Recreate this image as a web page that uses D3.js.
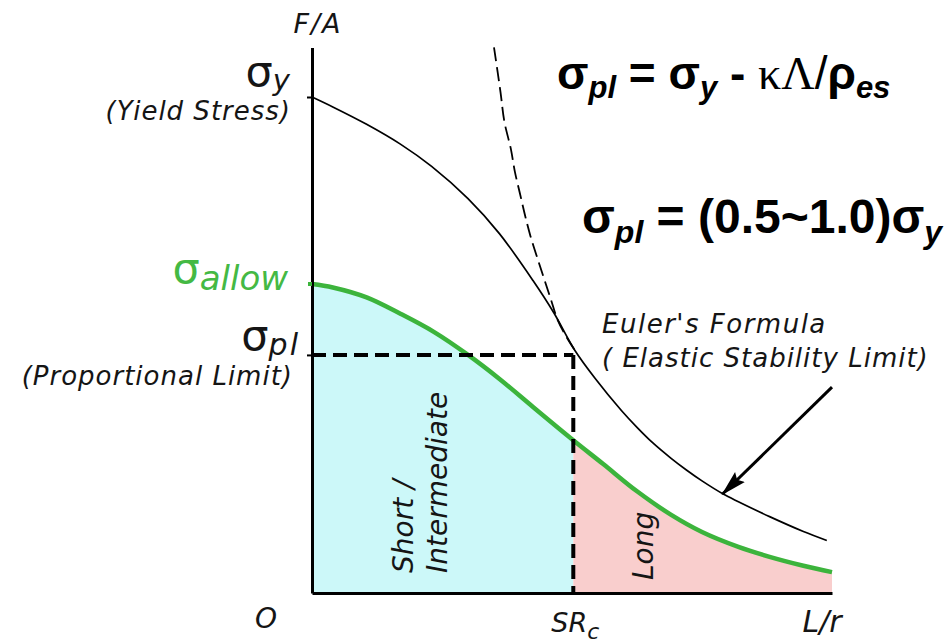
<!DOCTYPE html>
<html>
<head>
<meta charset="utf-8">
<script src="https://cdn.jsdelivr.net/npm/d3@7"></script>
<style>
  html, body { margin: 0; padding: 0; background: #fff; }
  svg { display: block; }
  text { font-family: "DejaVu Sans", Verdana, sans-serif; fill: #151515; }
  .eq { font-family: "Liberation Sans", Arial, sans-serif; font-weight: bold; fill: #000; }
</style>
</head>
<body>
<svg id="chart" width="949" height="644"></svg>
<script>
// Column buckling: stress F/A against slenderness ratio L/r (stresses scaled so that σy = 100)
const xMax = 200;
const yMax = 110;
const sigmaY = 100;       // yield stress
const sigmaAllow = 62.3;  // allowable stress at L/r = 0
const sigmaPL = 48;       // proportional limit
const SRc = 100.5;        // critical slenderness ratio

// Johnson parabola joining the Euler hyperbola (thin solid curve)
const limitX = [0, 8, 21, 34, 46, 60, 72, 85, 93, 101, 109, 119, 125, 131, 138, 144, 150, 158, 164, 176, 189, 198];
const limitY = [100, 98, 94.5, 90.5, 86, 79.5, 72.5, 63, 56.5, 49, 43.2, 36.8, 33.4, 30.3, 27.2, 24.8, 22.6, 20, 18.4, 15.4, 12.4, 10.6];

// Euler's formula above the proportional limit (dashed)
const eulerX = [70, 72.5, 74, 76.5, 78, 80, 82, 84, 87, 89.5, 92, 94.5, 98, 101];
const eulerY = [110, 101, 95, 89.5, 85, 80.5, 76, 72, 67, 63, 59, 55, 51.5, 49];

// Allowable stress curve (green)
const allowX = [0, 8, 21, 34, 47, 60, 72, 85, 100, 112, 125, 138, 150, 164, 176, 189, 200];
const allowY = [62.3, 61.6, 59.6, 56.3, 52.6, 48, 43.2, 37.5, 31, 26, 20.5, 15.8, 12.3, 9.3, 7.3, 5.5, 4.2];

// Pointer to the Euler curve
const arrowFromPt = [200, 41.5];
const arrowToPt = [158, 20];

const svg = d3.select("#chart");

const x = d3.scaleLinear().domain([0, xMax]).range([312, 832]);
const y = d3.scaleLinear().domain([0, yMax]).range([593, 47.4]);

const limitPts = limitX.map((v, i) => [v, limitY[i]]);
const eulerPts = eulerX.map((v, i) => [v, eulerY[i]]);
const allowPts = allowX.map((v, i) => [v, allowY[i]]);

const defs = svg.append("defs");
defs.append("clipPath").attr("id", "clipShort")
  .append("rect").attr("x", x(0)).attr("y", 0).attr("width", x(SRc) - x(0)).attr("height", 644);
defs.append("clipPath").attr("id", "clipLong")
  .append("rect").attr("x", x(SRc)).attr("y", 0).attr("width", x(xMax) - x(SRc)).attr("height", 644);
defs.append("marker").attr("id", "head")
  .attr("markerUnits", "userSpaceOnUse")
  .attr("viewBox", "0 0 26 16")
  .attr("markerWidth", 26).attr("markerHeight", 16)
  .attr("refX", 24).attr("refY", 8)
  .attr("orient", "auto")
  .append("path").attr("d", "M0,1 L26,8 L0,15 L4,8 Z").attr("fill", "#000");

const curve = d3.curveCatmullRom.alpha(0.5);

// Shaded regions under the allowable stress curve
const area = d3.area().x(d => x(d[0])).y0(y(0)).y1(d => y(d[1])).curve(curve);
svg.append("path").datum(allowPts).attr("d", area)
  .attr("fill", "#ccf8f9").attr("clip-path", "url(#clipShort)");
svg.append("path").datum(allowPts).attr("d", area)
  .attr("fill", "#f9cecd").attr("clip-path", "url(#clipLong)");

const line = d3.line().x(d => x(d[0])).y(d => y(d[1])).curve(curve);

// Allowable stress
svg.append("path").datum(allowPts).attr("d", line)
  .attr("fill", "none").attr("stroke", "#3cb43c").attr("stroke-width", 4.5);

// Proportional limit guides
svg.append("line")
  .attr("x1", x(0)).attr("x2", x(SRc)).attr("y1", y(sigmaPL)).attr("y2", y(sigmaPL))
  .attr("stroke", "#000").attr("stroke-width", 4).attr("stroke-dasharray", "14,7");
svg.append("line")
  .attr("x1", x(SRc)).attr("x2", x(SRc)).attr("y1", y(sigmaPL)).attr("y2", y(0))
  .attr("stroke", "#000").attr("stroke-width", 4).attr("stroke-dasharray", "14,7");

// Euler hyperbola
svg.append("path").datum(eulerPts).attr("d", line)
  .attr("fill", "none").attr("stroke", "#000").attr("stroke-width", 1.8)
  .attr("stroke-dasharray", "14,6");

// Limit stress curve
svg.append("path").datum(limitPts).attr("d", line)
  .attr("fill", "none").attr("stroke", "#000").attr("stroke-width", 1.7);

// Arrow
svg.append("line")
  .attr("x1", x(arrowFromPt[0])).attr("y1", y(arrowFromPt[1]))
  .attr("x2", x(arrowToPt[0])).attr("y2", y(arrowToPt[1]))
  .attr("stroke", "#000").attr("stroke-width", 3).attr("marker-end", "url(#head)");

// Axes
const yAxis = d3.axisLeft(y).tickValues([sigmaY, sigmaPL]).tickSize(5).tickSizeOuter(0).tickFormat("");
const gy = svg.append("g").attr("transform", `translate(${x(0)},0)`).call(yAxis);
const xAxis = d3.axisBottom(x).tickValues([]).tickSizeOuter(0);
const gx = svg.append("g").attr("transform", `translate(0,${y(0)})`).call(xAxis);
[gy, gx].forEach(g => {
  g.select(".domain").attr("stroke", "#000").attr("stroke-width", 3);
  g.selectAll(".tick line").attr("stroke", "#000").attr("stroke-width", 2);
});
// green stub where the allowable curve meets the stress axis
svg.append("line").attr("x1", x(0) - 4).attr("x2", x(0)).attr("y1", y(sigmaAllow)).attr("y2", y(sigmaAllow))
  .attr("stroke", "#3cb43c").attr("stroke-width", 4);

// Axis titles
svg.append("text").attr("x", x(0) + 6).attr("y", 33).attr("text-anchor", "middle")
  .attr("font-size", 27).attr("font-style", "italic").attr("letter-spacing", 2).text("F/A");
svg.append("text").attr("x", 266).attr("y", 628).attr("text-anchor", "middle")
  .attr("font-size", 28).attr("font-style", "italic").text("O");
const sr = svg.append("text").attr("x", x(SRc) + 2).attr("y", 632).attr("text-anchor", "middle")
  .attr("font-size", 27).attr("font-style", "italic");
sr.append("tspan").text("SR");
sr.append("tspan").attr("dy", 7).attr("font-size", 22).text("c");
svg.append("text").attr("x", x(xMax) - 10).attr("y", 632).attr("text-anchor", "middle")
  .attr("font-size", 30).attr("font-style", "italic").text("L/r");

// Stress level labels on the left
function sigmaLabel(rightX, baseY, sub, opts) {
  const t = svg.append("text").attr("x", rightX).attr("y", baseY).attr("text-anchor", "end")
    .attr("fill", opts.color || "#151515").style("fill", opts.color || "#151515");
  t.append("tspan").attr("font-size", 43).text("σ");
  t.append("tspan").attr("font-size", opts.subSize).attr("font-style", "italic")
    .attr("dy", opts.subDy).attr("letter-spacing", opts.spacing || 0).text(sub);
  return t;
}
sigmaLabel(290, y(sigmaY) - 11, "y", { subSize: 29, subDy: 4 });
svg.append("text").attr("x", 291).attr("y", y(sigmaY) + 23).attr("text-anchor", "end")
  .attr("font-size", 26).attr("font-style", "italic").attr("letter-spacing", 1).text("(Yield Stress)");

sigmaLabel(288, y(sigmaAllow) - 1, "allow", { subSize: 34, subDy: 7, color: "#44b944" });

sigmaLabel(300, y(sigmaPL) - 5, "pl", { subSize: 30, subDy: 5, spacing: 2 });
svg.append("text").attr("x", 293).attr("y", y(sigmaPL) + 30).attr("text-anchor", "end")
  .attr("font-size", 26).attr("font-style", "italic").attr("letter-spacing", 1).text("(Proportional Limit)");

// Region labels
function vLabel(px, py, txt) {
  svg.append("text").attr("transform", `translate(${px},${py}) rotate(-90)`)
    .attr("font-size", 28).attr("font-style", "italic").text(txt);
}
vLabel(413, 573, "Short /");
vLabel(447, 573, "Intermediate");
vLabel(653, 580, "Long");

// Euler annotation
svg.append("text").attr("x", 602).attr("y", 333)
  .attr("font-size", 26).attr("font-style", "italic").attr("letter-spacing", 1.5).text("Euler's Formula");
svg.append("text").attr("x", 602).attr("y", 367)
  .attr("font-size", 26).attr("font-style", "italic").attr("letter-spacing", 1).text("( Elastic Stability Limit)");

// Equations
const eq1 = svg.append("text").attr("class", "eq").attr("x", 557).attr("y", 89).attr("font-size", 46);
eq1.append("tspan").text("σ");
eq1.append("tspan").attr("font-size", 31).attr("font-style", "italic").attr("dy", 9).text("pl");
eq1.append("tspan").attr("dy", -9).text(" = σ");
eq1.append("tspan").attr("font-size", 31).attr("font-style", "italic").attr("dy", 9).text("y");
eq1.append("tspan").attr("dy", -9).text(" - ");
eq1.append("tspan").attr("font-family", "Liberation Serif, serif").attr("font-weight", "normal").text("κΛ");
eq1.append("tspan").attr("font-weight", "normal").text("/");
eq1.append("tspan").text("ρ");
eq1.append("tspan").attr("font-size", 31).attr("font-style", "italic").attr("dy", 9).text("es");

const eq2 = svg.append("text").attr("class", "eq").attr("x", 582).attr("y", 233).attr("font-size", 48);
eq2.append("tspan").text("σ");
eq2.append("tspan").attr("font-size", 32).attr("font-style", "italic").attr("dy", 10).text("pl");
eq2.append("tspan").attr("dy", -10).text(" = (0.5~1.0)σ");
eq2.append("tspan").attr("font-size", 32).attr("font-style", "italic").attr("dy", 10).text("y");
</script>
</body>
</html>
